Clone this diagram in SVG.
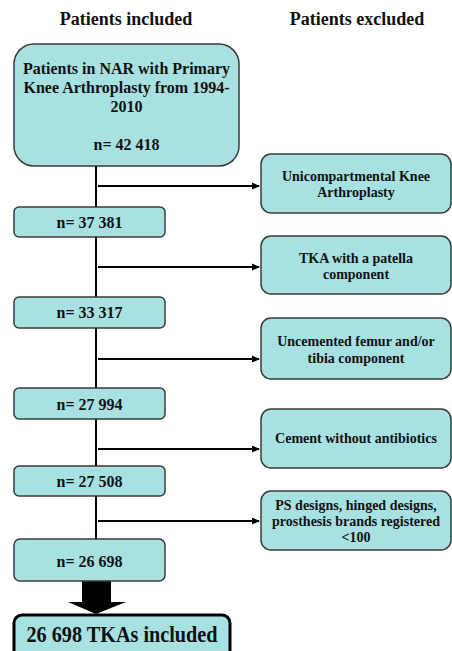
<svg xmlns="http://www.w3.org/2000/svg" width="452" height="651" viewBox="0 0 452 651">
<defs>
<style>
.box{fill:#a8e1e1;stroke:#3a3a3a;stroke-width:1.5}
.t{font-family:"Liberation Serif","Times New Roman",serif;font-weight:bold;fill:#111;text-anchor:middle}
.h{font-size:18px}
.m{font-size:16px}
.s{font-size:14px}
.line{stroke:#000;stroke-width:2;fill:none}
</style>
<marker id="ah" markerWidth="8" markerHeight="8" refX="7" refY="4" orient="auto" markerUnits="userSpaceOnUse">
<path d="M0,0.5 L8,4 L0,7.5 Z" fill="#000"/>
</marker>
</defs>
<rect width="452" height="651" fill="#fff"/>
<g id="headers">
<text class="t h" x="126" y="25">Patients included</text>
<text class="t h" x="357" y="25">Patients excluded</text>
</g>
<g id="connectors">
<line class="line" x1="96" y1="166" x2="96" y2="539"/>
<line class="line" x1="98" y1="186" x2="259" y2="186" marker-end="url(#ah)"/>
<line class="line" x1="98" y1="267" x2="259" y2="267" marker-end="url(#ah)"/>
<line class="line" x1="98" y1="359" x2="259" y2="359" marker-end="url(#ah)"/>
<line class="line" x1="98" y1="449" x2="259" y2="449" marker-end="url(#ah)"/>
<line class="line" x1="98" y1="521" x2="259" y2="521" marker-end="url(#ah)"/>
<path d="M82,581 L111,581 L111,602 L126,602 L96,614 L68,602 L82,602 Z" fill="#000"/>
</g>
<g id="n0">
<rect class="box" x="14" y="44" width="225" height="122" rx="20"/>
<text class="t m" x="126.5" y="74">Patients in NAR with Primary</text>
<text class="t m" x="126.5" y="93">Knee Arthroplasty from 1994-</text>
<text class="t m" x="126.5" y="112">2010</text>
<text class="t m" x="126.5" y="150">n= 42 418</text>
</g>
<g id="n1">
<rect class="box" x="14" y="207" width="151" height="30" rx="5"/>
<text class="t m" x="89.5" y="228">n= 37 381</text>
</g>
<g id="n2">
<rect class="box" x="14" y="297" width="151" height="31" rx="5"/>
<text class="t m" x="89.5" y="318">n= 33 317</text>
</g>
<g id="n3">
<rect class="box" x="14" y="388" width="151" height="31" rx="5"/>
<text class="t m" x="89.5" y="410">n= 27 994</text>
</g>
<g id="n4">
<rect class="box" x="14" y="466" width="151" height="30" rx="5"/>
<text class="t m" x="89.5" y="487">n= 27 508</text>
</g>
<g id="n5">
<rect class="box" x="14" y="539" width="151" height="42" rx="6"/>
<text class="t m" x="89.5" y="567">n= 26 698</text>
</g>
<g id="final">
<rect x="14" y="615" width="216" height="50" rx="8" fill="#a8e1e1" stroke="#000" stroke-width="3"/>
<text class="t" x="122" y="642" font-size="24" textLength="191" lengthAdjust="spacingAndGlyphs">26 698 TKAs included</text>
</g>
<g id="e1">
<rect class="box" x="261" y="154" width="190" height="59" rx="10"/>
<text class="t s" x="356" y="181">Unicompartmental Knee</text>
<text class="t s" x="356" y="197">Arthroplasty</text>
</g>
<g id="e2">
<rect class="box" x="261" y="236" width="190" height="58" rx="10"/>
<text class="t s" x="356" y="263">TKA with a patella</text>
<text class="t s" x="356" y="279">component</text>
</g>
<g id="e3">
<rect class="box" x="261" y="318" width="190" height="61" rx="10"/>
<text class="t s" x="356" y="346">Uncemented femur and/or</text>
<text class="t s" x="356" y="363">tibia component</text>
</g>
<g id="e4">
<rect class="box" x="261" y="409" width="190" height="59" rx="10"/>
<text class="t s" x="356" y="443">Cement without antibiotics</text>
</g>
<g id="e5">
<rect class="box" x="261" y="491" width="190" height="59" rx="10"/>
<text class="t s" x="356" y="510">PS designs, hinged designs,</text>
<text class="t s" x="356" y="526">prosthesis brands registered</text>
<text class="t s" x="356" y="542">&lt;100</text>
</g>
</svg>
